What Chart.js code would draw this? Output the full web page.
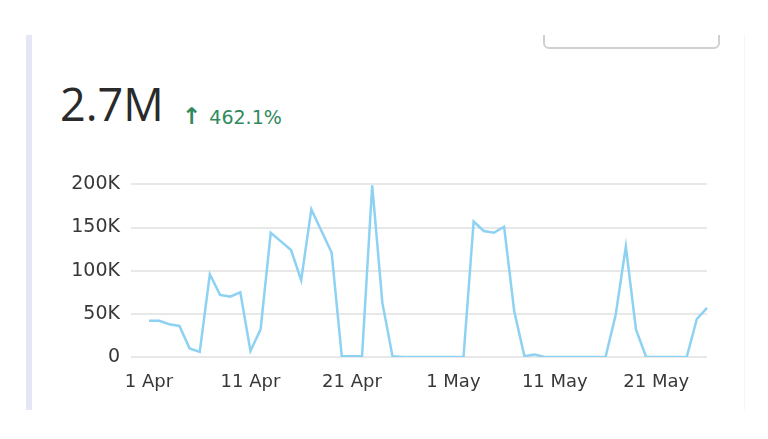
<!DOCTYPE html>
<html>
<head>
<meta charset="utf-8">
<script src="https://cdn.jsdelivr.net/npm/chart.js@4"></script>
<style>
  html, body { margin: 0; padding: 0; background: #fff; width: 768px; height: 439px; overflow: hidden; font-family: "Open Sans", sans-serif; }
  #card { position: absolute; left: 26px; top: 35px; width: 712px; height: 375px; overflow: hidden; border-left: 6px solid #e6e7f4; border-right: 1px solid #f6f6f8; }
  #select { position: absolute; left: 511px; top: -20px; width: 173px; height: 30px; border: 2px solid #cfd0d4; border-radius: 6px; }
  #total { position: absolute; left: 28px; top: 46px; font-size: 45px; color: #2a2a2a; line-height: 1; }
  #change { position: absolute; left: 150px; top: 70px; font-family: "DejaVu Sans", sans-serif; font-size: 19px; color: #2f8a5e; line-height: 1; white-space: nowrap; }
  #change .arrow { font-size: 23px; font-weight: bold; margin-right: 2px; }
  #wrap { position: absolute; left: 0; top: 162px; width: 740px; height: 231px; }
</style>
</head>
<body>
<div id="card">
  <div id="select"></div>
  <div id="total">2.7M</div>
  <div id="change"><span class="arrow">↑</span> 462.1%</div>
</div>
<div id="wrap"><canvas id="chart"></canvas></div>
<script>
const days = [
  '1 Apr','2 Apr','3 Apr','4 Apr','5 Apr','6 Apr','7 Apr','8 Apr','9 Apr','10 Apr',
  '11 Apr','12 Apr','13 Apr','14 Apr','15 Apr','16 Apr','17 Apr','18 Apr','19 Apr','20 Apr',
  '21 Apr','22 Apr','23 Apr','24 Apr','25 Apr','26 Apr','27 Apr','28 Apr','29 Apr','30 Apr',
  '1 May','2 May','3 May','4 May','5 May','6 May','7 May','8 May','9 May','10 May',
  '11 May','12 May','13 May','14 May','15 May','16 May','17 May','18 May','19 May','20 May',
  '21 May','22 May','23 May','24 May','25 May','26 May'
];
const shownTicks = ['1 Apr', '11 Apr', '21 Apr', '1 May', '11 May', '21 May'];
// daily values, thousands
const dailyK = [
  42, 42, 38, 36, 10, 6, 96, 72, 70, 75,
  7, 32, 144, 134, 124, 89, 171, 146, 121, 1,
  1, 1, 199, 63, 1, 0, 0, 0, 0, 0,
  0, 0, 157, 146, 144, 151, 53, 1, 3, 0,
  0, 0, 0, 0, 0, 0, 49, 128, 32, 0,
  0, 0, 0, 0, 44, 57
];

Chart.defaults.font.family = '"DejaVu Sans", sans-serif';
Chart.defaults.font.size = 18;
Chart.defaults.color = '#383838';

new Chart(document.getElementById('chart'), {
  type: 'line',
  data: {
    labels: days,
    datasets: [{
      data: dailyK.map(v => v * 1000),
      borderColor: '#8dd2f2',
      borderWidth: 2.5,
      pointRadius: 0,
      tension: 0,
      fill: false
    }]
  },
  options: {
    responsive: true,
    maintainAspectRatio: false,
    animation: false,
    layout: { padding: { top: 11, right: 33, left: 0, bottom: 0 } },
    plugins: { legend: { display: false }, tooltip: { enabled: false } },
    scales: {
      x: {
        grid: { display: false },
        border: { display: false },
        ticks: {
          autoSkip: false,
          maxRotation: 0,
          padding: 7,
          callback(val) {
            const l = this.getLabelForValue(val);
            return shownTicks.includes(l) ? l : '';
          }
        },
        afterFit(scale) { scale.height = 36; }
      },
      y: {
        min: 0,
        max: 200000,
        border: { display: false },
        grid: { color: '#e8e8e8', lineWidth: 2, tickLength: 18 },
        ticks: {
          stepSize: 50000,
          padding: 11,
          font: { size: 19 },
          callback: v => v === 0 ? '0' : (v / 1000) + 'K'
        },
        afterFit(scale) { scale.width = 149; }
      }
    }
  }
});
</script>
</body>
</html>
